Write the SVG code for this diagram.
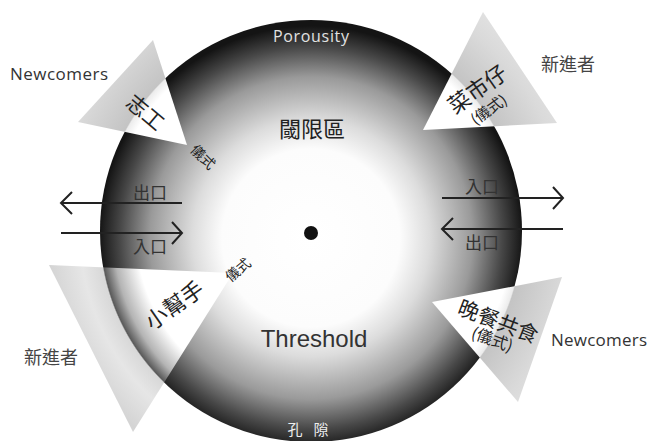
<svg xmlns="http://www.w3.org/2000/svg" width="647" height="441" viewBox="0 0 647 441">
<defs>
<radialGradient id="ball" gradientUnits="userSpaceOnUse" cx="311" cy="238" r="212">
<stop offset="0" stop-color="#ffffff"/>
<stop offset="0.42" stop-color="#fcfcfc"/>
<stop offset="0.56" stop-color="#dcdcdc"/>
<stop offset="0.76" stop-color="#9a9a9a"/>
<stop offset="0.9" stop-color="#484848"/>
<stop offset="1" stop-color="#141414"/>
</radialGradient>
<radialGradient id="triA" gradientUnits="userSpaceOnUse" cx="311" cy="231" r="330">
<stop offset="0" stop-color="#ffffff"/>
<stop offset="0.61" stop-color="#ffffff"/>
<stop offset="0.637" stop-color="#ececec"/>
<stop offset="0.641" stop-color="#c4c4c4"/>
<stop offset="0.78" stop-color="#dadada"/>
<stop offset="1" stop-color="#f2f2f2"/>
</radialGradient>
<radialGradient id="triB" gradientUnits="userSpaceOnUse" cx="311" cy="231" r="330">
<stop offset="0" stop-color="#ffffff"/>
<stop offset="0.53" stop-color="#ffffff"/>
<stop offset="0.6" stop-color="#b4b4b4"/>
<stop offset="0.637" stop-color="#5a5a5a"/>
<stop offset="0.641" stop-color="#d8d8d8"/>
<stop offset="0.7" stop-color="#e6e6e6"/>
<stop offset="0.8" stop-color="#d4d4d4"/>
<stop offset="1" stop-color="#e8e8e8"/>
</radialGradient>
<style>
.cjk{font-family:"Noto Sans CJK TC","Noto Sans CJK SC",sans-serif;fill:#222}
.en{font-family:"Open Sans","Liberation Sans",sans-serif;fill:#333}
.arr{stroke:#222;stroke-width:2;fill:none}
</style>
</defs>

<g id="circle">
<circle cx="311" cy="231" r="211" fill="url(#ball)"/>
<circle cx="311" cy="233" r="7" fill="#111"/>
<text x="311" y="42" text-anchor="middle" font-family="Open Sans, Liberation Sans, sans-serif" font-size="16" fill="#e2e2e2" textLength="76">Porousity</text>
<text class="cjk" x="312" y="137" text-anchor="middle" font-size="22">閾限區</text>
<text x="314" y="347" text-anchor="middle" font-family="Liberation Sans, Arial, sans-serif" font-size="24" fill="#333">Threshold</text>
<text x="295" y="435" text-anchor="middle" font-family="Noto Sans CJK TC, sans-serif" font-size="15" fill="#eeeeee">孔</text>
<text x="321" y="435" text-anchor="middle" font-family="Noto Sans CJK TC, sans-serif" font-size="15" fill="#eeeeee">隙</text>
</g>

<g id="node-volunteer">
<polygon points="153,40 78,122 187,145" fill="url(#triA)"/>
<text class="cjk" x="0" y="7" font-size="21" text-anchor="middle" transform="translate(145,113) rotate(40)">志工</text>
<text class="cjk" x="0" y="5" font-size="14" text-anchor="middle" transform="translate(203,157) rotate(45)">儀式</text>
</g>

<g id="node-market">
<polygon points="483,12 423,130 557,123" fill="url(#triA)"/>
<text class="cjk" x="0" y="7" font-size="22" text-anchor="middle" transform="translate(478,90) rotate(-35)">菜市仔</text>
<text class="cjk" x="0" y="5" font-size="15" text-anchor="middle" transform="translate(489,110) rotate(-35)">(儀式)</text>
</g>

<g id="node-helper">
<polygon points="49,265 233,273 133,432" fill="url(#triB)"/>
<text class="cjk" x="0" y="7" font-size="22" text-anchor="middle" transform="translate(175,306) rotate(-35)">小幫手</text>
<text class="cjk" x="0" y="5" font-size="14" text-anchor="middle" transform="translate(238,270) rotate(-40)">儀式</text>
</g>

<g id="node-dinner">
<polygon points="432,302 562,277 518,402" fill="url(#triA)"/>
<text class="cjk" x="0" y="7" font-size="21" text-anchor="middle" transform="translate(498,322) rotate(21)">晚餐共食</text>
<text class="cjk" x="0" y="5" font-size="16" text-anchor="middle" transform="translate(492,340) rotate(20)">(儀式)</text>
</g>

<g id="labels">
<text class="en" x="10" y="80" font-size="17" textLength="98">Newcomers</text>
<text class="en" x="551" y="346" font-size="17" textLength="96">Newcomers</text>
<text class="cjk" x="541" y="71" font-size="18" style="fill:#444">新進者</text>
<text class="cjk" x="24" y="364" font-size="18" style="fill:#444">新進者</text>
</g>

<g id="connectors">
<path class="arr" d="M61,203 H182 M72,192 L61,203 L72,214"/>
<path class="arr" d="M61,233 H182 M172,222 L182,233 L172,244"/>
<path class="arr" d="M442,198 H563 M553,187 L563,198 L553,209"/>
<path class="arr" d="M442,229 H563 M453,218 L442,229 L453,240"/>
<text class="cjk" x="150" y="199" font-size="17" text-anchor="middle" style="fill:#333">出口</text>
<text class="cjk" x="150" y="253" font-size="17" text-anchor="middle" style="fill:#333">入口</text>
<text class="cjk" x="482" y="193" font-size="17" text-anchor="middle" style="fill:#333">入口</text>
<text class="cjk" x="482" y="249" font-size="17" text-anchor="middle" style="fill:#333">出口</text>
</g>
</svg>
